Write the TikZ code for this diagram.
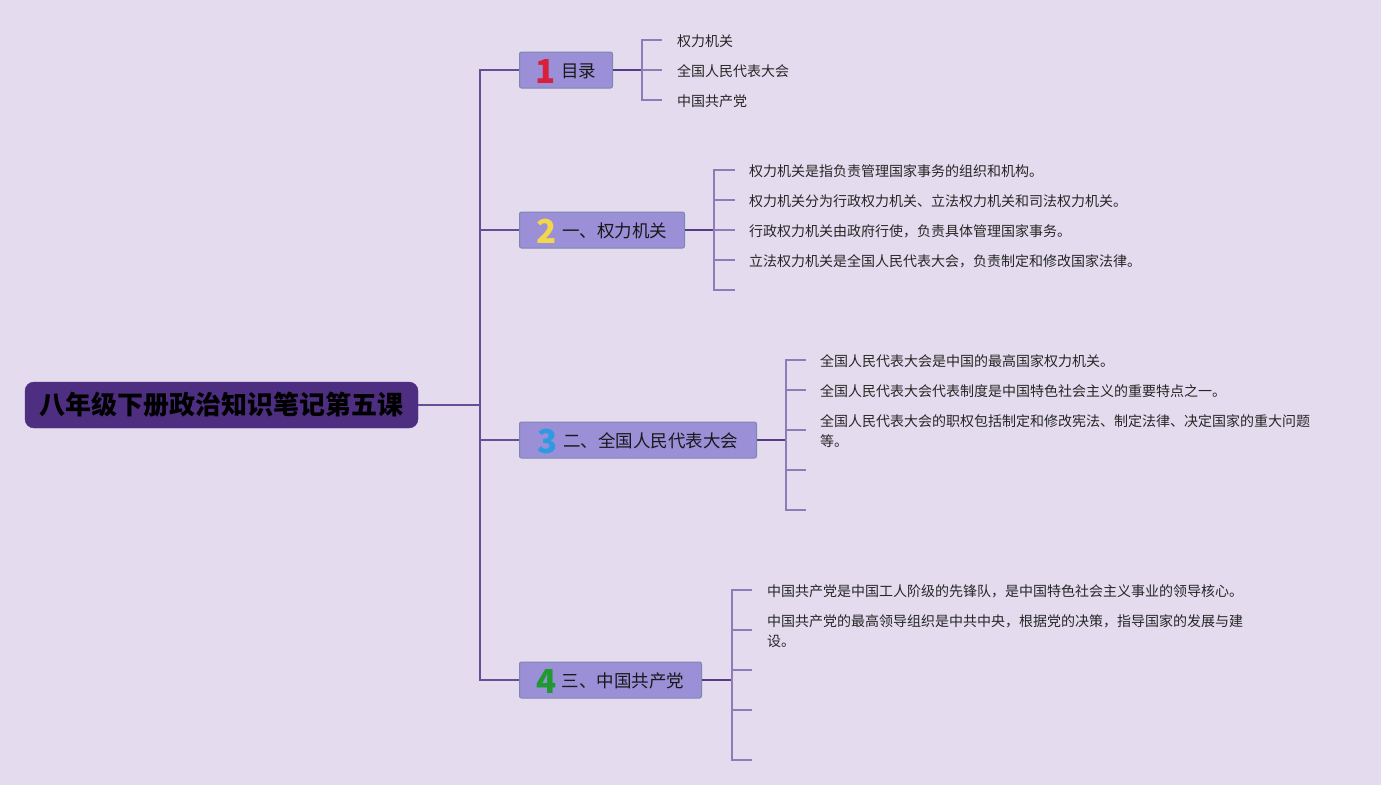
\documentclass[tikz,border=0pt]{standalone}
\usepackage{fontspec}
\setmainfont{Noto Sans CJK SC}
\usepackage{xcolor}
\definecolor{mybg}{RGB}{228,220,238}
\definecolor{rootpurple}{RGB}{78,46,128}
\definecolor{topicfill}{RGB}{155,143,216}
\definecolor{topicborder}{RGB}{125,135,175}
\definecolor{trunkpurple}{RGB}{100,78,150}
\definecolor{stempurple}{RGB}{88,58,138}
\definecolor{twigpurple}{RGB}{140,125,185}
\definecolor{numred}{RGB}{216,32,58}
\definecolor{numyellow}{RGB}{242,214,75}
\definecolor{numblue}{RGB}{46,155,224}
\definecolor{numgreen}{RGB}{30,154,46}
\usepackage{tikz}
\newcommand{\num}[2]{\raisebox{-5.5pt}{\smash{\color{#1}\fontsize{33}{33}\selectfont\bfseries #2}}\hspace{5pt}}
\tikzset{
    root/.style={draw=rootpurple, fill=rootpurple, rounded corners=9pt, minimum height=46pt, minimum width=393pt, text=black, font=\fontsize{26}{30}\selectfont\bfseries},
    topic/.style={anchor=west, draw=topicborder, fill=topicfill, line width=1pt, rounded corners=2pt, minimum height=36pt, inner sep=0pt, text height=15.5pt, text depth=0pt, text=black!90, font=\fontsize{17.5}{20}\selectfont},
    leaf/.style={anchor=west, inner xsep=14pt, inner ysep=0pt, text height=12.5pt, text depth=0pt, align=left, text=black!85, font=\fontsize{14}{20}\selectfont},
    leaftwo/.style={leaf, text height=32.5pt},
    trunk/.style={draw=trunkpurple, line width=1.6pt},
    stem/.style={draw=stempurple, line width=2pt},
    twig/.style={draw=twigpurple, line width=1.6pt}
}
\begin{document}
\begin{tikzpicture}[x=1pt, y=-1pt]
        \useasboundingbox (0,0) rectangle (1381,785);
        \fill[mybg] (0,0) rectangle (1381,785);

        \node[root] (R) at (221.5,405) {八年级下册政治知识笔记第五课};
        \coordinate (fork) at (480,405);

        \path (519,70) node[topic, minimum width=93] (T1) {\num{numred}{1}目录}
            ++(123,0) coordinate (B1)
            ++(20,-30) node[leaf, inner xsep=15pt] (L11) {权力机关}
            ++(0,30) node[leaf, inner xsep=15pt] (L12) {全国人民代表大会}
            ++(0,30) node[leaf, inner xsep=15pt] (L13) {中国共产党};

        \path (519,230) node[topic, minimum width=165] (T2) {\num{numyellow}{2}一、权力机关}
            ++(195,0) coordinate (B2)
            ++(21,-60) node[leaf] (L21) {权力机关是指负责管理国家事务的组织和机构。}
            ++(0,30) node[leaf] (L22) {权力机关分为行政权力机关、立法权力机关和司法权力机关。}
            ++(0,30) node[leaf] (L23) {行政权力机关由政府行使，负责具体管理国家事务。}
            ++(0,30) node[leaf] (L24) {立法权力机关是全国人民代表大会，负责制定和修改国家法律。}
            ++(0,30) coordinate (L25);

        \path (519,440) node[topic, minimum width=237] (T3) {\num{numblue}{3}二、全国人民代表大会}
            ++(267,0) coordinate (B3)
            ++(20,-80) node[leaf] (L31) {全国人民代表大会是中国的最高国家权力机关。}
            ++(0,30) node[leaf] (L32) {全国人民代表大会代表制度是中国特色社会主义的重要特点之一。}
            ++(0,40) node[leaftwo] (L33) {全国人民代表大会的职权包括制定和修改宪法、制定法律、决定国家的重大问题\\等。}
            ++(0,40) coordinate (L34)
            ++(0,40) coordinate (L35);

        \path (519,680) node[topic, minimum width=182] (T4) {\num{numgreen}{4}三、中国共产党}
            ++(213,0) coordinate (B4)
            ++(20,-90) node[leaf, inner xsep=15pt] (L41) {中国共产党是中国工人阶级的先锋队，是中国特色社会主义事业的领导核心。}
            ++(0,40) node[leaftwo, inner xsep=15pt] (L42) {中国共产党的最高领导组织是中共中央，根据党的决策，指导国家的发展与建\\设。}
            ++(0,40) coordinate (L43)
            ++(0,40) coordinate (L44)
            ++(0,50) coordinate (L45);

        \draw[trunk]
          (R.east) -- (fork)
          (fork) |- (T1.west)
          (fork) |- (T2.west)
          (fork) |- (T3.west)
          (fork) |- (T4.west);

        \draw[stem]
          (T1.east) -- (B1)
          (T2.east) -- (B2)
          (T3.east) -- (B3)
          (T4.east) -- (B4);

        \draw[twig]
          (B1) |- (L11.west) (B1) |- (L12.west) (B1) |- (L13.west)
          (B2) |- (L21.west) (B2) |- (L22.west) (B2) |- (L23.west) (B2) |- (L24.west) (B2) |- (L25)
          (B3) |- (L31.west) (B3) |- (L32.west) (B3) |- (L33.west) (B3) |- (L34) (B3) |- (L35)
          (B4) |- (L41.west) (B4) |- (L42.west) (B4) |- (L43) (B4) |- (L44) (B4) |- (L45);
\end{tikzpicture}
\end{document}
